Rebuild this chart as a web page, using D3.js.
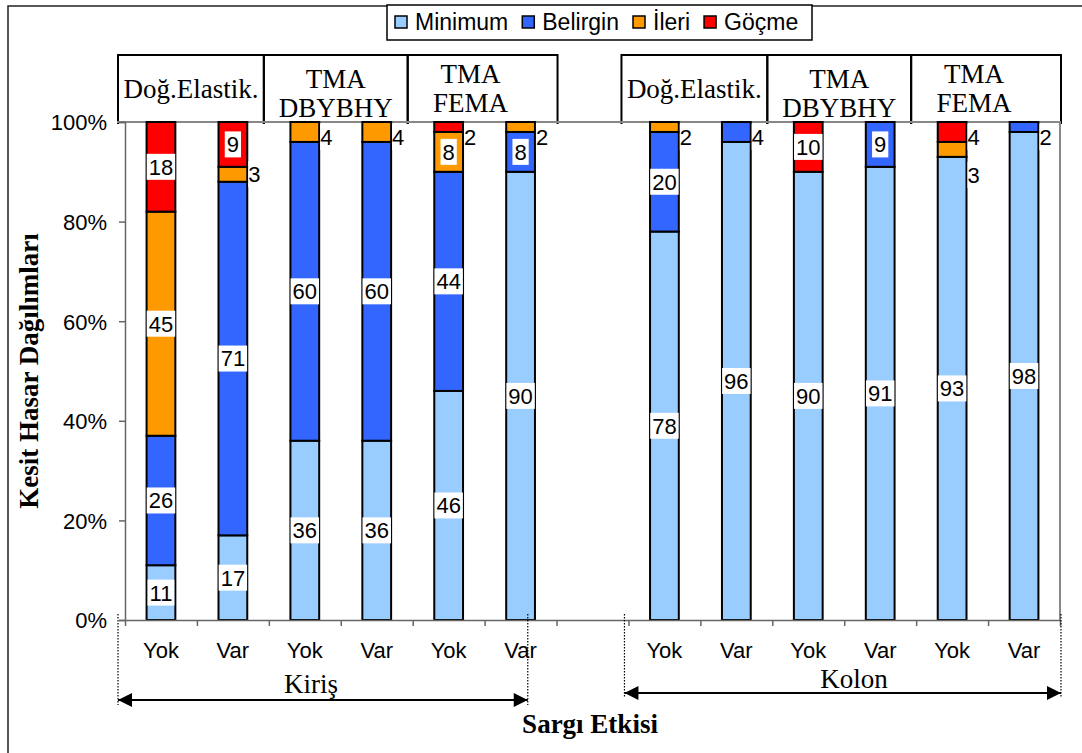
<!DOCTYPE html>
<html lang="tr">
<head>
<meta charset="UTF-8">
<title>Kesit Hasar Dağılımları</title>
<script src="https://d3js.org/d3.v7.min.js"></script>
<style>
  body { margin: 0; background: #fff; }
  .sans { font-family: "Liberation Sans", Arial, sans-serif; }
  .serif { font-family: "Liberation Serif", "Times New Roman", serif; }
  .axis path, .axis line { stroke: #666; stroke-width: 1.5px; }
  .axis text { font-family: "Liberation Sans", Arial, sans-serif; font-size: 22px; fill: #000; }
</style>
</head>
<body>
<script>
// categories: 6 Kiriş bars, an empty slot, 6 Kolon bars
const categories = ["K1", "K2", "K3", "K4", "K5", "K6", "gap", "C1", "C2", "C3", "C4", "C5", "C6"];
const sargiLabels = ["Yok", "Var", "Yok", "Var", "Yok", "Var", "", "Yok", "Var", "Yok", "Var", "Yok", "Var"];
const seriesNames = ["Minimum", "Belirgin", "İleri", "Göçme"];
const seriesColors = ["#99ccff", "#3366ff", "#ff9900", "#ff0000"];

const minimum  = [11, 17, 36, 36, 46, 90, 0, 78, 96, 90, 91, 93, 98];
const belirgin = [26, 71, 60, 60, 44,  8, 0, 20,  4,  0,  9,  0,  2];
const ileri    = [45,  3,  4,  4,  8,  2, 0,  2,  0,  0,  0,  3,  0];
const gocme    = [18,  9,  0,  0,  2,  0, 0,  0,  0, 10,  0,  4,  0];

const methodLabels = [["Doğ.Elastik."], ["TMA", "DBYBHY"], ["TMA", "FEMA"]];
const groupLabels = ["Kiriş", "Kolon"];
const groupStart = [0, 7];          // first category index of each group
const yTicks = [0, 20, 40, 60, 80, 100];

const width = 1082, height = 753;
const plotLeft = 125, plotRight = 1060, plotTop = 122, plotBottom = 620;

const svg = d3.select("body").append("svg")
    .attr("width", width)
    .attr("height", height);

// outer frame (left + top visible)
svg.append("path")
    .attr("d", `M8,${height}V6H${width}`)
    .attr("fill", "none")
    .attr("stroke", "#222")
    .attr("stroke-width", 1.5);

const x = d3.scaleBand()
    .domain(categories)
    .range([plotLeft, plotRight])
    .paddingInner(0.6)
    .paddingOuter(0.3);

const slot = d3.scaleLinear()
    .domain([0, categories.length])
    .range([plotLeft, plotRight]);

const y = d3.scaleLinear()
    .domain([0, 100])
    .range([plotBottom, plotTop]);

const rows = categories.map((c, i) => ({
    cat: c,
    "Minimum": minimum[i],
    "Belirgin": belirgin[i],
    "İleri": ileri[i],
    "Göçme": gocme[i]
}));
const stacked = d3.stack().keys(seriesNames)(rows);
const color = d3.scaleOrdinal().domain(seriesNames).range(seriesColors);

// header boxes above the plot
groupStart.forEach(g => {
    for (let m = 0; m < 3; m++) {
        const x0 = slot(g + m * 2) - (m === 0 ? 7 : 5);
        const x1 = slot(g + m * 2 + 2) - (m === 2 ? -1 : 5);
        svg.append("path")
            .attr("d", `M${x0},${plotTop + 2}V55H${x1}V${plotTop + 2}`)
            .attr("fill", "none")
            .attr("stroke", "#000")
            .attr("stroke-width", 2);
        const lines = methodLabels[m];
        const cx = (x0 + x1) / 2 - (m === 2 ? 12 : 0);
        const t = svg.append("text")
            .attr("class", "serif")
            .attr("font-size", 27)
            .attr("text-anchor", "middle")
            .attr("x", cx);
        if (lines.length === 1) {
            t.attr("y", 98).text(lines[0]);
        } else {
            const y0 = m === 1 ? 88 : 83;
            lines.forEach((l, k) => {
                t.append("tspan").attr("x", cx).attr("y", y0 + k * 29).text(l);
            });
        }
    }
});

// plot border (top + right)
svg.append("path")
    .attr("d", `M${plotLeft - 8},${plotTop}H${plotRight}V${plotBottom}`)
    .attr("fill", "none")
    .attr("stroke", "#888")
    .attr("stroke-width", 2);

// bars
const bw = x.bandwidth();
svg.append("g").selectAll("g")
    .data(stacked)
    .join("g")
    .attr("fill", d => color(d.key))
    .selectAll("rect")
    .data(d => d.filter(s => s[1] - s[0] > 0))
    .join("rect")
    .attr("x", d => x(d.data.cat))
    .attr("y", d => y(d[1]))
    .attr("width", bw)
    .attr("height", d => y(d[0]) - y(d[1]))
    .attr("stroke", "#000")
    .attr("stroke-width", 2);

// axes
svg.append("g")
    .attr("class", "axis")
    .attr("transform", `translate(${plotLeft},0)`)
    .call(d3.axisLeft(y).tickValues(yTicks).tickFormat(d => d + "%").tickSize(6).tickPadding(12))
    .call(g => g.selectAll(".tick text").attr("dy", "0.36em"));

svg.append("g")
    .attr("class", "axis")
    .attr("transform", `translate(0,${plotBottom})`)
    .call(d3.axisBottom(slot).tickValues(d3.range(categories.length + 1)).tickFormat("").tickSize(6).tickSizeOuter(0));

// Yok / Var labels
svg.append("g").selectAll("text")
    .data(categories.filter((c, i) => sargiLabels[i]))
    .join("text")
    .attr("class", "sans")
    .attr("font-size", 22)
    .attr("text-anchor", "middle")
    .attr("x", c => x(c) + bw / 2)
    .attr("y", 658)
    .text(c => sargiLabels[categories.indexOf(c)]);

// value labels
const labelLayer = svg.append("g").attr("class", "sans");
categories.forEach((c, i) => {
    let lastSmall = null;
    for (let s = seriesNames.length - 1; s >= 0; s--) {
        const seg = stacked[s][i];
        const v = seg[1] - seg[0];
        if (v <= 0) continue;
        const mid = y((seg[0] + seg[1]) / 2);
        let lx, ly, anchor;
        if (v >= 5) {
            lx = x(c) + bw / 2; ly = mid; anchor = "middle";
        } else {
            lx = x(c) + bw + 1; anchor = "start";
            ly = Math.max(mid, plotTop + 15);
            if (lastSmall !== null && ly - lastSmall < 20) ly = lastSmall + 38;
            lastSmall = ly;
        }
        const g = labelLayer.append("g");
        const t = g.append("text")
            .attr("x", lx)
            .attr("y", ly)
            .attr("dy", "0.36em")
            .attr("font-size", 22)
            .attr("text-anchor", anchor)
            .text(v);
        const b = t.node().getBBox();
        g.insert("rect", "text")
            .attr("x", b.x - (anchor === "middle" ? 2 : 0))
            .attr("y", ly - 13)
            .attr("width", b.width + (anchor === "middle" ? 4 : 1))
            .attr("height", 26)
            .attr("fill", "#fff");
    }
});

// legend
const legend = svg.append("g").attr("class", "sans");
legend.append("rect")
    .attr("x", 387).attr("y", 5)
    .attr("width", 425).attr("height", 35)
    .attr("fill", "#fff")
    .attr("stroke", "#000")
    .attr("stroke-width", 1.5);
let lx = 395;
seriesNames.forEach(name => {
    legend.append("rect")
        .attr("x", lx).attr("y", 16)
        .attr("width", 12).attr("height", 12)
        .attr("fill", color(name))
        .attr("stroke", "#000")
        .attr("stroke-width", 1.5);
    const t = legend.append("text")
        .attr("x", lx + 20)
        .attr("y", 22)
        .attr("dy", "0.36em")
        .attr("font-size", 23)
        .text(name);
    lx += 20 + t.node().getComputedTextLength() + 14;
});

// y axis title
svg.append("text")
    .attr("class", "serif")
    .attr("font-size", 27)
    .attr("font-weight", "bold")
    .attr("text-anchor", "middle")
    .attr("transform", `translate(38,${(plotTop + plotBottom) / 2}) rotate(-90)`)
    .text("Kesit Hasar Dağılımları");

// group spans: dotted guides, arrows, names
const defs = svg.append("defs");
["start", "end"].forEach(k => {
    defs.append("marker")
        .attr("id", "arrow-" + k)
        .attr("viewBox", "0 0 10 10")
        .attr("refX", k === "end" ? 10 : 0)
        .attr("refY", 5)
        .attr("markerWidth", 8)
        .attr("markerHeight", 7)
        .attr("markerUnits", "strokeWidth")
        .attr("orient", "auto")
        .append("path")
        .attr("d", k === "end" ? "M0,0L10,5L0,10Z" : "M10,0L0,5L10,10Z")
        .attr("fill", "#000");
});

const spans = [
    { x0: slot(0) - 7, x1: x("K6") + bw * 0.75, ay: 700, ty: 693, tx: 311 },
    { x0: slot(7) - 4, x1: slot(13) + 1, ay: 693, ty: 688, tx: 854 }
];
spans.forEach((s, i) => {
    [s.x0, s.x1].forEach(xx => {
        svg.append("line")
            .attr("x1", xx).attr("x2", xx)
            .attr("y1", plotBottom - 6).attr("y2", s.ay + 5)
            .attr("stroke", "#000")
            .attr("stroke-width", 1.2)
            .attr("stroke-dasharray", "1.5,1.5");
    });
    svg.append("line")
        .attr("x1", s.x0).attr("x2", s.x1)
        .attr("y1", s.ay).attr("y2", s.ay)
        .attr("stroke", "#000")
        .attr("stroke-width", 2)
        .attr("marker-start", "url(#arrow-start)")
        .attr("marker-end", "url(#arrow-end)");
    svg.append("text")
        .attr("class", "serif")
        .attr("font-size", 27)
        .attr("text-anchor", "middle")
        .attr("x", s.tx)
        .attr("y", s.ty)
        .text(groupLabels[i]);
});

svg.append("text")
    .attr("class", "serif")
    .attr("font-size", 27)
    .attr("font-weight", "bold")
    .attr("text-anchor", "middle")
    .attr("x", 590)
    .attr("y", 733)
    .text("Sargı Etkisi");
</script>
</body>
</html>
